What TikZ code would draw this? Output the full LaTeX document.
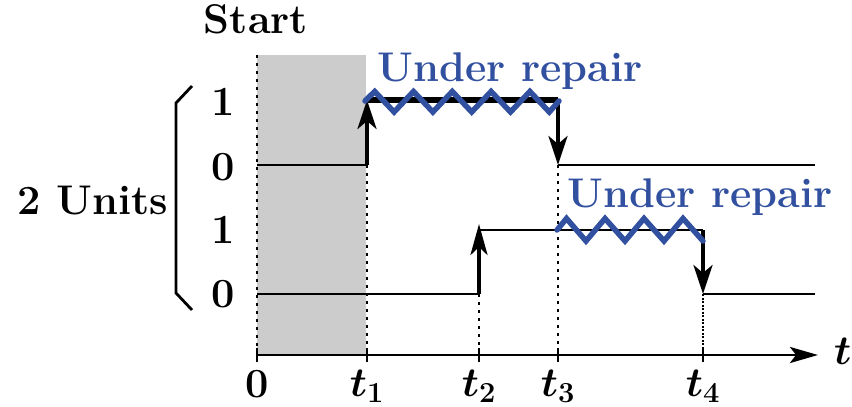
\RequirePackage{fix-cm}
\documentclass[tikz,border=0pt]{standalone}
\usepackage{amsmath}
\usetikzlibrary{arrows.meta}
\definecolor{repblue}{RGB}{50,80,160}
\definecolor{startgray}{RGB}{204,204,204}
\begin{document}
\begin{tikzpicture}[x=1pt,y=-1pt,
  lbl/.style={font=\fontsize{41.5}{44}\selectfont\bfseries, inner sep=0pt, anchor=base},
  mlbl/.style={font=\fontsize{41.5}{44}\selectfont\boldmath, inner sep=0pt, anchor=base},
  replbl/.style={lbl, text=repblue},
  thinline/.style={line width=2.8pt},
  thickline/.style={line width=6pt},
  jumparrow/.style={line width=3.8pt, -{Stealth[length=29pt,width=19pt,inset=8pt]}},
  dotline/.style={line width=2.4pt, dash pattern=on 3pt off 5pt},
  densedot/.style={line width=2.2pt, dash pattern=on 2pt off 1.5pt},
  zig/.style={draw=repblue, line width=5.5pt, line cap=round, line join=miter},
  tickmark/.style={line width=2.8pt},
]
\useasboundingbox (0,0) rectangle (852,407);

% shaded start interval
\fill[startgray] (257,55) rectangle (366,355);

% coordinates of the time instants
\coordinate (o)  at (257,355);
\coordinate (t1) at (367,355);
\coordinate (t2) at (479,355);
\coordinate (t3) at (558,355);
\coordinate (t4) at (703,355);
\coordinate (top0) at (257,55);
\coordinate (axend) at (818,355);

% unit 1 waveform
\coordinate (a0) at (257,165);
\coordinate (a1) at (367,165);
\coordinate (a2) at (367,100);
\coordinate (a3) at (558,100);
\coordinate (a4) at (558,165);
\coordinate (a5) at (815,165);
% unit 2 waveform
\coordinate (b0) at (257,294);
\coordinate (b1) at (479,294);
\coordinate (b2) at (479,230);
\coordinate (b3) at (703,230);
\coordinate (b4) at (703,294);
\coordinate (b5) at (815,294);

% dotted guides
\draw[dotline] (top0) -- (o);
\draw[dotline] (a1) -- (t1);
\draw[dotline] (b1) -- (t2);
\draw[dotline] (a4) -- (t3);
\draw[densedot] (b4) -- (t4);

% axis
\draw[thinline, -{Stealth[length=28pt,width=16pt,inset=6pt]}] (o) -- (axend);
\foreach \p in {o,t1,t2,t3,t4}
  \draw[tickmark] ([yshift=-7pt]\p) -- ([yshift=7pt]\p);

% unit 1
\draw[thinline] (a0) -- (a1);
\draw[jumparrow] (a1) -- (a2);
\draw[thickline] (a2) -- (a3);
\draw[jumparrow] (a3) -- (a4);
\draw[thinline] (a4) -- (a5);
% unit 2
\draw[thinline] (b0) -- (b1);
\draw[jumparrow, -{Stealth[length=31pt,width=17pt,inset=8pt]}, shorten >=-6pt] (b1) -- (b2);
\draw[thinline] (b2) -- (b3);
\draw[jumparrow] (b3) -- (b4);
\draw[thinline] (b4) -- (b5);

% repair zigzags
\draw[zig] (365,101) -- (374.7,91.5) -- (394.1,112) -- (413.5,91.5) -- (432.9,112)
  -- (452.3,91.5) -- (471.7,112) -- (491.1,91.5) -- (510.5,112) -- (529.9,91.5)
  -- (549.3,112) -- (559,101);
\draw[zig] (557,230) -- (566.5,218.5) -- (586,241) -- (605,218.5) -- (625,241)
  -- (644,218.5) -- (664,241) -- (683,218.5) -- (703,241);

% bracket
\coordinate (br1) at (192,86);
\coordinate (br2) at (176,103);
\coordinate (br3) at (176,293);
\coordinate (br4) at (192,310);
\draw[thinline, line join=miter] (br1) -- (br2) -- (br3) -- (br4);

% labels
\node[lbl] (start) at (256,33) {Start};
\node[replbl] (rep1) at (510,81) {Under repair};
\node[replbl] (rep2) at (700,207) {Under repair};
\node[lbl] (u1h) at (223,115) {1};
\node[lbl] (u1l) at (223,180) {0};
\node[lbl] (u2h) at (223,243) {1};
\node[lbl] (u2l) at (223,307) {0};
\node[lbl] (units) at (93,214) {2 Units};
\node[lbl] (l0) at (257,397) {0};
\node[mlbl] (l1) at (367,396) {$t_1$};
\node[mlbl] (l2) at (479,396) {$t_2$};
\node[mlbl] (l3) at (558,396) {$t_3$};
\node[mlbl] (l4) at (703,396) {$t_4$};
\node[mlbl, anchor=base west] (tl) at (834,364) {$t$};
\end{tikzpicture}
\end{document}
